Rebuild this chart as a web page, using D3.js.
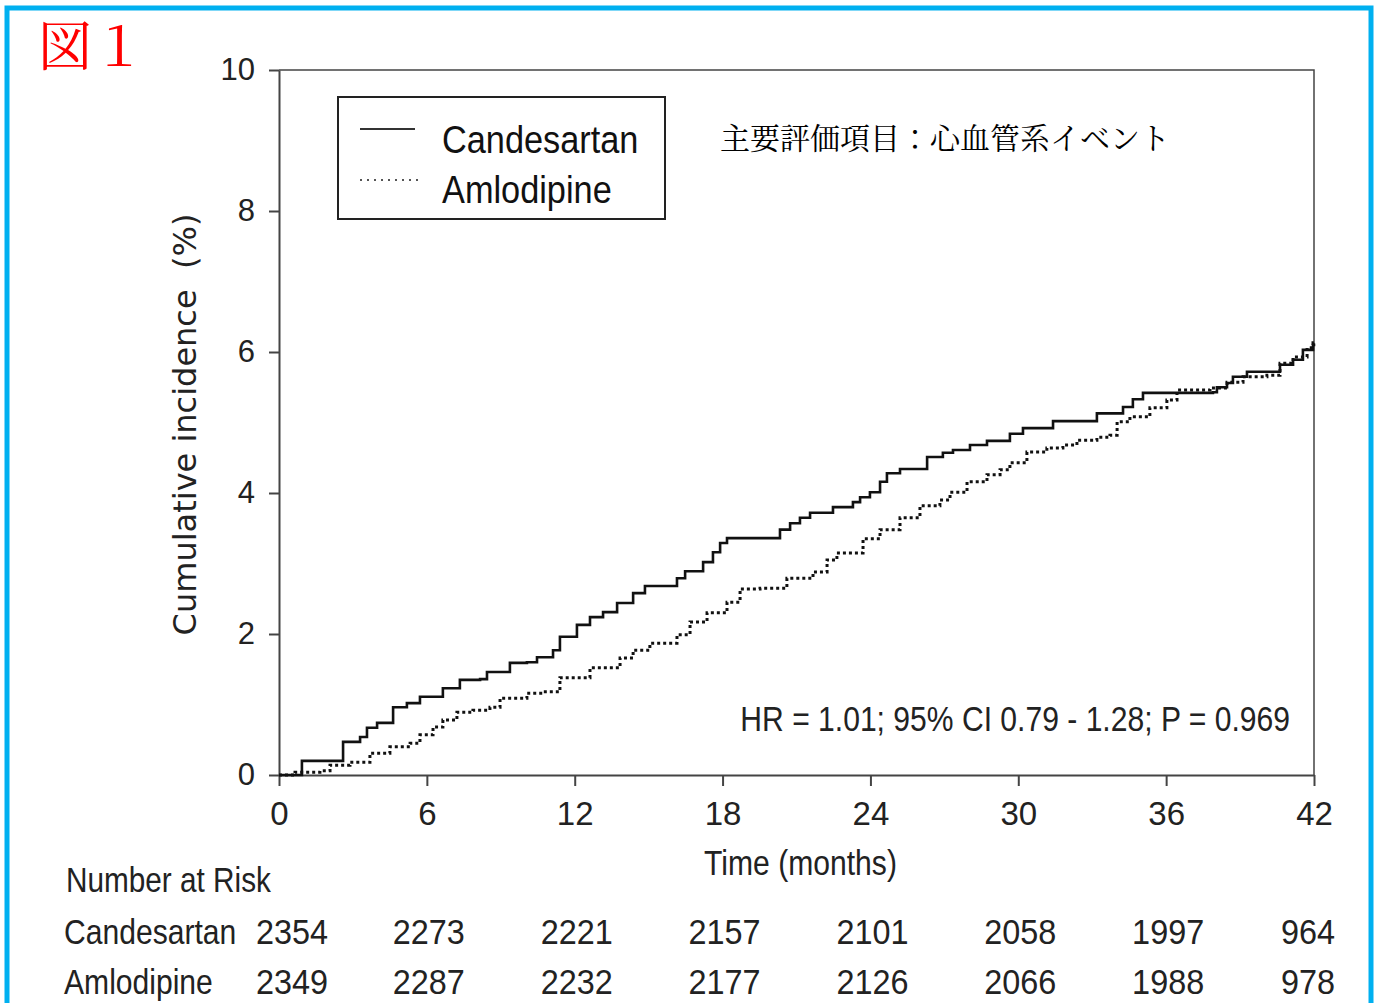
<!DOCTYPE html>
<html>
<head>
<meta charset="utf-8">
<script src="https://cdn.jsdelivr.net/npm/d3@7"></script>
<style>
  body { margin: 0; background: #fff; }
  svg { display: block; }
  .sans { font-family: "Liberation Sans", Arial, sans-serif; }
</style>
</head>
<body>
<div id="chart"></div>
<script>
// Kaplan-Meier style cumulative incidence
const candMonths = [0, 0.93, 2.07, 2.60, 3.29, 3.57, 3.98, 4.63, 5.19, 5.72, 6.65, 7.34, 8.16, 8.44, 9.37, 10.06, 10.47, 11.12, 11.40, 12.09, 12.62, 13.15, 13.72, 14.37, 14.85, 16.15, 16.48, 17.21, 17.61, 17.90, 18.18, 20.33, 20.74, 21.14, 21.55, 22.48, 23.29, 23.58, 23.98, 24.39, 24.67, 25.20, 26.30, 26.94, 27.35, 28.04, 28.73, 29.66, 30.19, 31.41, 33.19, 34.25, 34.65, 35.06, 37.90, 38.06, 38.47, 38.71, 39.28, 40.62, 41.15, 41.55, 41.96, 42];
const candPct = [0, 0.20, 0.20, 0.47, 0.54, 0.67, 0.74, 0.96, 1.02, 1.11, 1.23, 1.35, 1.36, 1.46, 1.59, 1.60, 1.67, 1.77, 1.96, 2.13, 2.24, 2.31, 2.44, 2.58, 2.68, 2.79, 2.89, 3.02, 3.16, 3.29, 3.36, 3.48, 3.57, 3.65, 3.72, 3.80, 3.87, 3.94, 4.01, 4.16, 4.28, 4.34, 4.51, 4.57, 4.61, 4.68, 4.74, 4.84, 4.92, 5.02, 5.13, 5.22, 5.33, 5.42, 5.43, 5.50, 5.56, 5.65, 5.72, 5.82, 5.89, 6.03, 6.10, 6.12];

const amloMonths = [0, 0.65, 1.66, 2.07, 2.88, 3.69, 4.50, 5.32, 5.72, 6.25, 6.65, 7.22, 7.87, 8.56, 8.97, 10.06, 10.71, 11.40, 12.62, 13.84, 14.37, 15.05, 16.15, 16.68, 17.37, 18.18, 18.71, 19.52, 20.61, 21.67, 22.24, 22.64, 23.70, 24.39, 25.20, 26.01, 26.82, 27.23, 27.92, 28.73, 29.26, 29.66, 30.35, 31.16, 31.81, 32.38, 33.19, 33.72, 34.01, 34.53, 35.34, 36.03, 36.44, 37.78, 38.47, 39.12, 40.09, 40.62, 41.15, 41.72, 41.96, 42];
const amloPct = [0, 0.04, 0.06, 0.14, 0.18, 0.31, 0.40, 0.45, 0.57, 0.68, 0.78, 0.89, 0.92, 0.96, 1.09, 1.16, 1.18, 1.38, 1.52, 1.66, 1.77, 1.87, 1.99, 2.17, 2.30, 2.45, 2.64, 2.65, 2.79, 2.88, 3.05, 3.15, 3.35, 3.48, 3.65, 3.82, 3.90, 4.01, 4.16, 4.26, 4.33, 4.43, 4.58, 4.64, 4.68, 4.75, 4.79, 4.82, 5.01, 5.08, 5.21, 5.32, 5.46, 5.49, 5.57, 5.65, 5.67, 5.84, 5.93, 6.06, 6.13, 6.15];

const xTicks = [0, 6, 12, 18, 24, 30, 36, 42];
const yTicks = [0, 2, 4, 6, 8, 10];
const riskCand = [2354, 2273, 2221, 2157, 2101, 2058, 1997, 964];
const riskAmlo = [2349, 2287, 2232, 2177, 2126, 2066, 1988, 978];

const width = 1379, height = 1003;
const margin = { left: 279, right: 65, top: 70, bottom: 228 };

const svg = d3.select('#chart').append('svg')
    .attr('width', width)
    .attr('height', height);

// condensed text: the original uses a narrow grotesque, squeeze Liberation Sans horizontally
function narrowText(sel, x, y, txt, size, anchor = 'start', sx = 0.86) {
    return sel.append('text')
        .attr('class', 'sans')
        .attr('transform', `translate(${x},${y}) scale(${sx},1)`)
        .attr('text-anchor', anchor)
        .style('font-size', size + 'px')
        .attr('fill', '#222')
        .text(txt);
}

// outer cyan frame
svg.append('rect')
    .attr('x', 7).attr('y', 8)
    .attr('width', 1364).attr('height', 1010)
    .attr('fill', 'none')
    .attr('stroke', '#00b0f0')
    .attr('stroke-width', 5);

// figure number
svg.append('text')
    .attr('x', 38).attr('y', 66)
    .attr('fill', '#ff0000')
    .style('font-family', '"Noto Serif CJK JP", "DejaVu Serif", "Noto Sans CJK JP", serif')
    .style('font-size', '54px')
    .text('図１');

const x = d3.scaleLinear().domain([0, 42]).range([margin.left, width - margin.right]);
const y = d3.scaleLinear().domain([0, 10]).range([height - margin.bottom, margin.top]);

// plot frame (top and right)
svg.append('path')
    .attr('d', `M${x(0)},${y(10)}H${x(42)}V${y(0)}`)
    .attr('fill', 'none')
    .attr('stroke', '#444')
    .attr('stroke-width', 1.5);

const xAxis = svg.append('g')
    .attr('transform', `translate(0,${y(0)})`)
    .call(d3.axisBottom(x).tickValues(xTicks).tickSize(11).tickPadding(16).tickSizeOuter(0));
xAxis.select('.domain').attr('stroke', '#444').attr('stroke-width', 2);
xAxis.selectAll('.tick line').attr('stroke', '#444').attr('stroke-width', 2);
xAxis.selectAll('.tick text')
    .attr('class', 'sans')
    .style('font-size', '33px')
    .attr('fill', '#222');

const yAxis = svg.append('g')
    .attr('transform', `translate(${x(0)},0)`)
    .call(d3.axisLeft(y).tickValues(yTicks).tickSize(10).tickPadding(14).tickSizeOuter(0));
yAxis.select('.domain').attr('stroke', '#444').attr('stroke-width', 2);
yAxis.selectAll('.tick line').attr('stroke', '#444').attr('stroke-width', 2);
yAxis.selectAll('.tick text')
    .attr('class', 'sans')
    .style('font-size', '31px')
    .attr('fill', '#222');

// axis titles
svg.append('text')
    .attr('transform', `translate(196,${(y(0) + y(10)) / 2 + 2}) rotate(-90)`)
    .attr('text-anchor', 'middle')
    .style('font-family', '"DejaVu Sans", Verdana, sans-serif')
    .style('font-size', '32px')
    .attr('fill', '#222')
    .attr('xml:space', 'preserve')
    .text('Cumulative incidence  (%)');

narrowText(svg, x(21) + 4, 875, 'Time (months)', 35, 'middle');

// curves
const line = d3.line()
    .x(d => x(d[0]))
    .y(d => y(d[1]))
    .curve(d3.curveStepAfter);

svg.append('path')
    .datum(d3.zip(candMonths, candPct))
    .attr('d', line)
    .attr('fill', 'none')
    .attr('stroke', '#111')
    .attr('stroke-width', 2.6);

svg.append('path')
    .datum(d3.zip(amloMonths, amloPct))
    .attr('d', line)
    .attr('fill', 'none')
    .attr('stroke', '#111')
    .attr('stroke-width', 3)
    .attr('stroke-dasharray', '3,3');

// legend
const lg = svg.append('g');
lg.append('rect')
    .attr('x', 338).attr('y', 97)
    .attr('width', 327).attr('height', 122)
    .attr('fill', '#fff')
    .attr('stroke', '#222')
    .attr('stroke-width', 2);
lg.append('line')
    .attr('x1', 360).attr('x2', 415).attr('y1', 129).attr('y2', 129)
    .attr('stroke', '#333').attr('stroke-width', 2);
lg.append('line')
    .attr('x1', 360).attr('x2', 418).attr('y1', 180).attr('y2', 180)
    .attr('stroke', '#555').attr('stroke-width', 2)
    .attr('stroke-dasharray', '2,5');
narrowText(lg, 442, 153, 'Candesartan', 39, 'start', 0.88).attr('fill', '#111');
narrowText(lg, 442, 203, 'Amlodipine', 39, 'start', 0.88).attr('fill', '#111');

// endpoint label
svg.append('text')
    .attr('x', 720).attr('y', 149)
    .style('font-family', '"Noto Serif CJK JP", "Noto Sans CJK JP", sans-serif')
    .style('font-size', '30px')
    .attr('fill', '#000')
    .text('主要評価項目：心血管系イベント');

// statistics
narrowText(svg, 1290, 731, 'HR = 1.01; 95% CI 0.79 - 1.28; P = 0.969', 35, 'end', 0.86);

// number at risk
narrowText(svg, 66, 892, 'Number at Risk', 35, 'start', 0.85);

const rows = [
    { name: 'Candesartan', values: riskCand, y: 944 },
    { name: 'Amlodipine', values: riskAmlo, y: 994 }
];

const nudge = i => (i === 0 ? 13 : i === xTicks.length - 1 ? -6 : 2);

rows.forEach(r => {
    narrowText(svg, 64, r.y, r.name, 35, 'start', 0.86);
    r.values.forEach((v, i) => {
        narrowText(svg, x(xTicks[i]) + nudge(i), r.y, v, 36, 'middle', 0.9);
    });
});
</script>
</body>
</html>
